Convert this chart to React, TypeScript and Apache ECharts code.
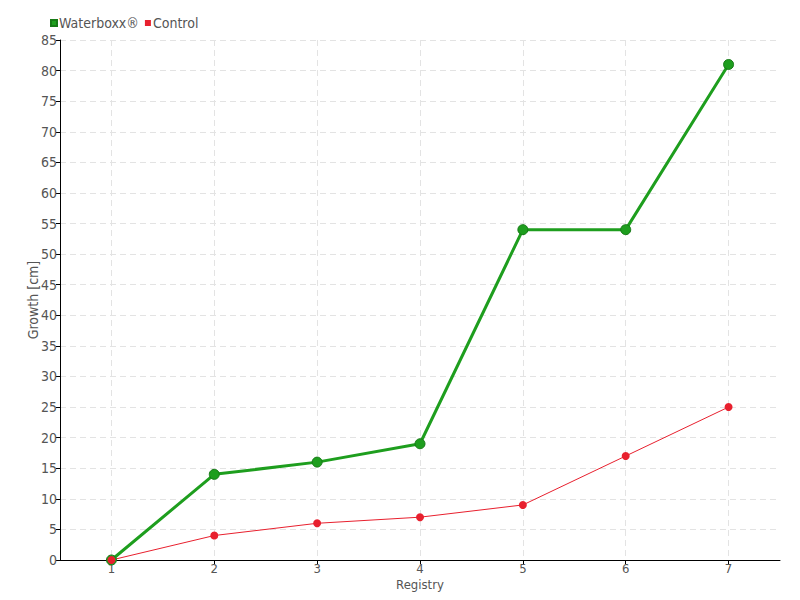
import React, { useEffect, useRef } from "react";
import * as echarts from "echarts";

const categories = ["1", "2", "3", "4", "5", "6", "7"];
const waterboxx = [0, 14, 16, 19, 54, 54, 81];
const control = [0, 4, 6, 7, 9, 17, 25];
const seriesNames = ["Waterboxx®", "Control"];
// half-slot positions used only to place vertical grid lines at category centres
const gridSlots = Array.from({ length: 15 }, (_, i) => String(i));

const FONT = "'Liberation Sans Narrow', 'DejaVu Sans Condensed', 'Roboto', sans-serif";
const GRID_LINE = { color: "#e3e3e3", type: [6, 4] as number[] };

export default function App() {
  const ref = useRef<HTMLDivElement>(null);
  useEffect(() => {
    const chart = echarts.init(ref.current!, null, { renderer: "svg" });
    chart.setOption({
      animation: false,
      textStyle: { fontFamily: FONT, color: "#555" },
      legend: {
        left: 45,
        top: 11,
        itemWidth: 6,
        itemHeight: 6,
        itemGap: 6,
        icon: "rect",
        textStyle: { fontFamily: FONT, fontSize: 14, color: "#555", padding: [0, 0, 0, -3] },
        data: seriesNames,
      },
      grid: { left: 60, right: 20, top: 40, bottom: 40 },
      xAxis: [
        {
          type: "category",
          data: categories,
          boundaryGap: true,
          name: "Registry",
          nameLocation: "middle",
          nameGap: 18,
          nameMoveOverlap: false,
          nameTextStyle: { fontFamily: FONT, fontSize: 13, color: "#555" },
          axisLine: { lineStyle: { color: "#000" } },
          axisTick: { show: true, alignWithLabel: true, length: 4, lineStyle: { color: "#000" } },
          axisLabel: { fontFamily: FONT, fontSize: 13, color: "#555", margin: 2 },
          splitLine: { show: false },
        },
        {
          type: "category",
          data: gridSlots,
          boundaryGap: false,
          position: "bottom",
          axisLine: { show: false },
          axisTick: { show: false },
          axisLabel: { show: false },
          splitLine: {
            show: true,
            interval: (index: number) => index % 2 === 1,
            lineStyle: GRID_LINE,
          },
        },
      ],
      yAxis: {
        type: "value",
        min: 0,
        max: 85,
        interval: 5,
        name: "Growth [cm]",
        nameLocation: "middle",
        nameGap: 20,
        nameMoveOverlap: false,
        nameTextStyle: { fontFamily: FONT, fontSize: 14, color: "#555" },
        axisLine: { show: true, lineStyle: { color: "#000" } },
        axisTick: { show: true, length: 4, lineStyle: { color: "#000" } },
        axisLabel: { fontFamily: FONT, fontSize: 14, color: "#555", margin: 3 },
        splitLine: { show: true, lineStyle: GRID_LINE },
      },
      series: [
        {
          name: seriesNames[0],
          type: "line",
          data: waterboxx,
          xAxisIndex: 0,
          symbol: "circle",
          symbolSize: 10,
          color: "#1e9e1e",
          lineStyle: { width: 3, color: "#1e9e1e" },
          itemStyle: { color: "#1e9e1e", borderColor: "#167a16", borderWidth: 1 },
        },
        {
          name: seriesNames[1],
          type: "line",
          data: control,
          xAxisIndex: 0,
          symbol: "circle",
          symbolSize: 8,
          color: "#e8202e",
          lineStyle: { width: 1, color: "#e8202e" },
          itemStyle: { color: "#e8202e" },
        },
      ],
    });
    return () => chart.dispose();
  }, []);
  return <div ref={ref} style={{ width: 800, height: 600, position: "absolute", left: 0, top: 0 }} />;
}
